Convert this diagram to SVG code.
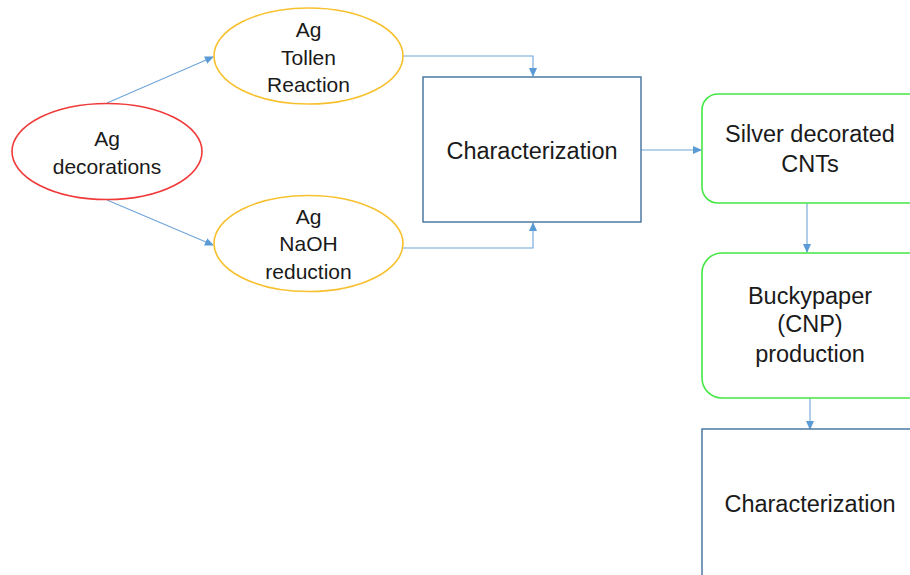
<svg xmlns="http://www.w3.org/2000/svg" width="910" height="575" viewBox="0 0 910 575">
  <style>
    text { font-family: "Liberation Sans", Arial, sans-serif; font-size: 21px; fill: #1a1a1a; text-anchor: middle; }
    .big { font-size: 23.5px; }
    .red { fill: #fff; stroke: #f03a3a; stroke-width: 1.6; }
    .gold { fill: #fff; stroke: #f7c02e; stroke-width: 1.6; }
    .green { fill: #fff; stroke: #44e844; stroke-width: 1.6; }
    .box { fill: #fff; stroke: #41719c; stroke-width: 1.4; }
    .link { fill: none; stroke: #6fa5d8; stroke-width: 1.1; marker-end: url(#arrow); }
  </style>
  <defs>
    <marker id="arrow" markerWidth="9" markerHeight="8" refX="8" refY="4" orient="auto" markerUnits="userSpaceOnUse">
      <path d="M0,0 L9,4 L0,8 Z" fill="#5b9bd5"/>
    </marker>
  </defs>
  <rect width="910" height="575" fill="#fff"/>

  <g id="connectors">
    <path class="link" d="M107,103 L213,57"/>
    <path class="link" d="M107,200 L213,245"/>
    <path class="link" d="M403,56 L533,56 L533,76"/>
    <path class="link" d="M403,248 L533,248 L533,223"/>
    <path class="link" d="M641,150 L701,150"/>
    <path class="link" d="M807,203 L807,252"/>
    <path class="link" d="M810,398 L810,429"/>
  </g>

  <g id="ag-decorations">
    <ellipse class="red" cx="107" cy="151.5" rx="95" ry="48"/>
    <text x="107" y="146">Ag</text>
    <text x="107" y="174">decorations</text>
  </g>

  <g id="tollen-reaction">
    <ellipse class="gold" cx="308.5" cy="56" rx="94.5" ry="48"/>
    <text x="308.5" y="37">Ag</text>
    <text x="308.5" y="64.5">Tollen</text>
    <text x="308.5" y="92">Reaction</text>
  </g>

  <g id="naoh-reduction">
    <ellipse class="gold" cx="308.5" cy="243.5" rx="94.5" ry="48"/>
    <text x="308.5" y="224">Ag</text>
    <text x="308.5" y="251">NaOH</text>
    <text x="308.5" y="279">reduction</text>
  </g>

  <g id="characterization-1">
    <rect class="box" x="423" y="77" width="218" height="145"/>
    <text class="big" x="532" y="159">Characterization</text>
  </g>

  <g id="silver-cnts">
    <rect class="green" x="702" y="94" width="230" height="109" rx="16"/>
    <text class="big" x="810" y="142">Silver decorated</text>
    <text class="big" x="810" y="172">CNTs</text>
  </g>

  <g id="buckypaper">
    <rect class="green" x="702" y="253" width="230" height="145" rx="20"/>
    <text class="big" x="810" y="304">Buckypaper</text>
    <text class="big" x="810" y="332">(CNP)</text>
    <text class="big" x="810" y="362">production</text>
  </g>

  <g id="characterization-2">
    <rect class="box" x="702" y="429" width="230" height="170"/>
    <text class="big" x="810" y="512">Characterization</text>
  </g>
</svg>
